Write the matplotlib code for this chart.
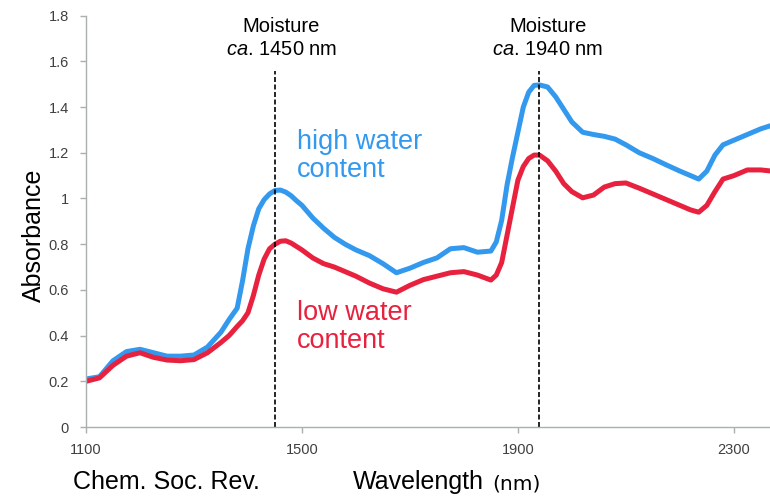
import matplotlib
matplotlib.use('Agg')
import matplotlib.pyplot as plt

plt.rcParams['font.family'] = ['Liberation Sans', 'DejaVu Sans']
plt.rcParams['mathtext.fontset'] = 'custom'
plt.rcParams['mathtext.rm'] = 'Liberation Sans'
plt.rcParams['mathtext.it'] = 'Liberation Sans:italic'

# NIR spectra, absorbance vs wavelength (nm)
wavelength = [1100, 1125, 1150, 1175, 1200, 1225, 1250, 1275, 1300, 1325,
              1350, 1365, 1380, 1390, 1400, 1410, 1420, 1430, 1440, 1450,
              1460, 1470, 1480, 1490, 1500, 1520, 1540, 1560, 1580, 1600,
              1625, 1650, 1675, 1700, 1725, 1750, 1775, 1800, 1825, 1850,
              1860, 1870, 1880, 1890, 1900, 1910, 1920, 1930, 1940, 1955,
              1970, 1985, 2000, 2020, 2040, 2060, 2080, 2100, 2125, 2150,
              2175, 2200, 2220, 2235, 2250, 2265, 2280, 2300, 2325, 2350,
              2370]
high_water = [0.21, 0.22, 0.29, 0.33, 0.34, 0.325, 0.31, 0.31, 0.315, 0.35,
              0.415, 0.47, 0.52, 0.64, 0.78, 0.88, 0.955, 0.995, 1.02, 1.035,
              1.037, 1.028, 1.012, 0.99, 0.97, 0.915, 0.87, 0.83, 0.80, 0.775,
              0.75, 0.715, 0.675, 0.695, 0.72, 0.74, 0.78, 0.785, 0.765, 0.77,
              0.81, 0.905, 1.06, 1.18, 1.29, 1.40, 1.465, 1.495, 1.497, 1.488,
              1.445, 1.39, 1.335, 1.29, 1.28, 1.272, 1.26, 1.235, 1.20, 1.175,
              1.147, 1.12, 1.10, 1.085, 1.12, 1.19, 1.235, 1.255, 1.28, 1.305,
              1.32]
low_water = [0.20, 0.215, 0.27, 0.31, 0.325, 0.305, 0.293, 0.29, 0.295, 0.325,
             0.37, 0.40, 0.44, 0.465, 0.50, 0.575, 0.665, 0.735, 0.78, 0.80,
             0.813, 0.815, 0.805, 0.79, 0.775, 0.74, 0.715, 0.70, 0.68, 0.66,
             0.63, 0.605, 0.59, 0.62, 0.645, 0.66, 0.675, 0.68, 0.665, 0.643,
             0.665, 0.72, 0.84, 0.96, 1.08, 1.14, 1.175, 1.19, 1.19, 1.165,
             1.12, 1.065, 1.03, 1.003, 1.015, 1.05, 1.065, 1.068, 1.045, 1.02,
             0.995, 0.97, 0.95, 0.94, 0.97, 1.03, 1.085, 1.10, 1.125, 1.125,
             1.12]
moisture_bands = [1450, 1940]

blue = '#3399ee'
red = '#e8213f'
grey = '#a8b0b0'

fig = plt.figure(figsize=(7.7, 4.98), dpi=100)
ax = fig.add_axes([86 / 770, 1 - 427 / 498, 1 - 86 / 770, (427 - 15.7) / 498])

ax.plot(wavelength, high_water, color=blue, lw=3.6,
        solid_capstyle='round', solid_joinstyle='round')
ax.plot(wavelength, low_water, color=red, lw=3.6,
        solid_capstyle='round', solid_joinstyle='round')

for band in moisture_bands:
    ax.vlines(band, 0, 1.56, colors='black', linestyles=(0, (3, 1.5)), lw=1.2)

ax.text(1462, 1.73, 'Moisture', ha='center', va='baseline', fontsize=14.5)
ax.text(1462, 1.63, r'$\mathit{ca}$. 1450 nm', ha='center', va='baseline', fontsize=14.5)
ax.text(1955, 1.73, 'Moisture', ha='center', va='baseline', fontsize=14.5)
ax.text(1955, 1.63, r'$\mathit{ca}$. 1940 nm', ha='center', va='baseline', fontsize=14.5)

# va='baseline' on two-line text anchors the last line
ax.text(1491, 1.094, 'high water\ncontent', color=blue, fontsize=19.5,
        va='baseline', linespacing=1.1)
ax.text(1491, 0.346, 'low water\ncontent', color=red, fontsize=19.5,
        va='baseline', linespacing=1.1)

ax.set_xlim(1100, 2367)
ax.set_ylim(0, 1.8)
ax.set_xticks([1100, 1500, 1900, 2300])
ax.set_yticks([0, 0.2, 0.4, 0.6, 0.8, 1.0, 1.2, 1.4, 1.6, 1.8])
ax.set_yticklabels(['0', '0.2', '0.4', '0.6', '0.8', '1', '1.2', '1.4', '1.6', '1.8'])

for side in ['top', 'right']:
    ax.spines[side].set_visible(False)
for side in ['left', 'bottom']:
    ax.spines[side].set_color(grey)
    ax.spines[side].set_linewidth(1.0)
ax.tick_params(axis='both', direction='out', length=4.5, width=1.0, color=grey,
               labelsize=10.5, labelcolor='#404040')
ax.tick_params(axis='y', pad=8)
ax.tick_params(axis='x', pad=7)

fig.text(34 / 770, 1 - 235 / 498, 'Absorbance', rotation=90, ha='center', va='center',
         fontsize=18)
fig.text(353 / 770, 1 - 489 / 498, 'Wavelength', fontsize=18, va='baseline')
fig.text(492 / 770, 1 - 489 / 498, '(nm)', fontsize=14.5, family='DejaVu Sans',
         va='baseline')
fig.text(73 / 770, 1 - 489 / 498, 'Chem. Soc. Rev.', fontsize=18, va='baseline')

fig.savefig('out.png', dpi=100)
